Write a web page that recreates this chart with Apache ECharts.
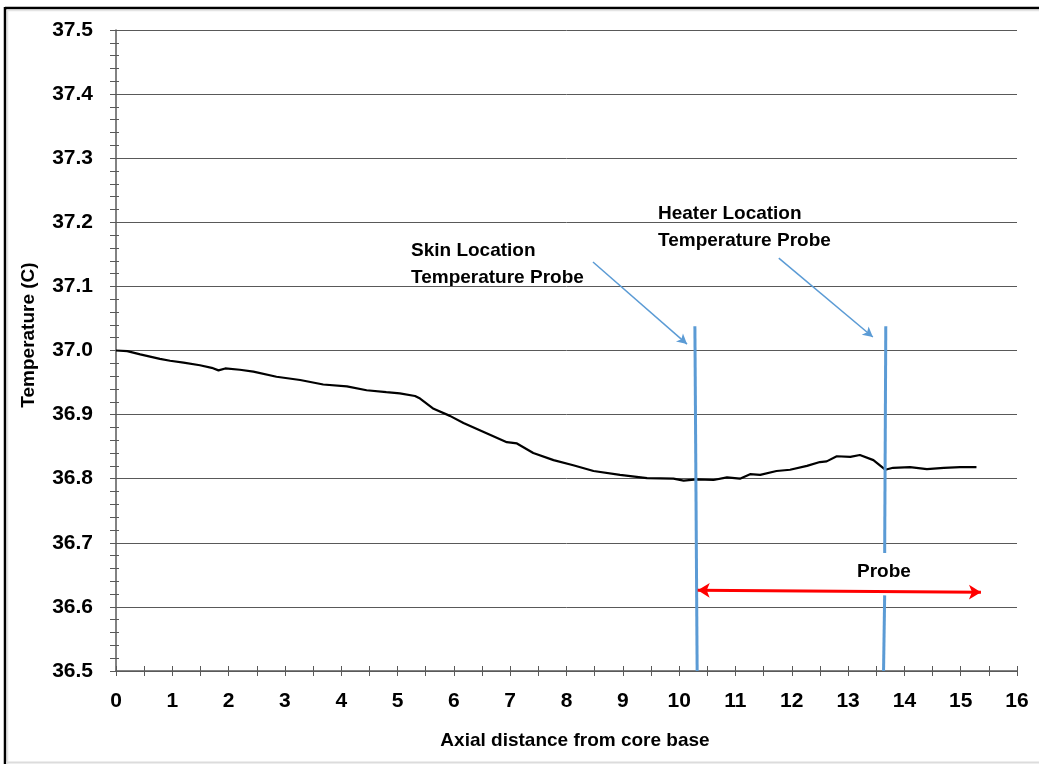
<!DOCTYPE html>
<html>
<head>
<meta charset="utf-8">
<script src="https://cdn.jsdelivr.net/npm/echarts@6/dist/echarts.min.js"></script>
<style>
html,body{margin:0;padding:0;background:#fff;}
#chart{width:1039px;height:764px;}
</style>
</head>
<body>
<div id="chart"></div>
<script>
// ---- data ----
const distance = [0, 0.2, 0.43, 0.78, 0.96, 1.2, 1.49, 1.7, 1.82, 1.94, 2.2, 2.44, 2.85, 3.27, 3.68, 4.1, 4.45, 4.8, 5.04, 5.31, 5.4, 5.64, 5.93, 6.17, 6.58, 6.94, 7.12, 7.41, 7.77, 8.12, 8.48, 8.95, 9.43, 9.9, 10.08, 10.31, 10.61, 10.85, 11.08, 11.26, 11.44, 11.73, 11.97, 12.27, 12.5, 12.62, 12.8, 13.04, 13.21, 13.45, 13.66, 13.8, 14.1, 14.4, 14.7, 14.99, 15.28];
const temperature = [37.000, 36.999, 36.994, 36.987, 36.984, 36.981, 36.977, 36.973, 36.969, 36.972, 36.970, 36.967, 36.959, 36.954, 36.947, 36.944, 36.938, 36.935, 36.933, 36.929, 36.925, 36.909, 36.898, 36.887, 36.871, 36.857, 36.855, 36.840, 36.829, 36.821, 36.812, 36.806, 36.801, 36.800, 36.797, 36.799, 36.798, 36.802, 36.800, 36.807, 36.806, 36.812, 36.814, 36.820, 36.826, 36.827, 36.835, 36.834, 36.837, 36.829, 36.814, 36.817, 36.818, 36.815, 36.817, 36.818, 36.818];
const xRange = [0, 16];
const yRange = [36.5, 37.5];
// probe marker lines (data coordinates)
const skinProbeLine = [[10.28, 37.038], [10.32, 36.5]];
const heaterProbeUpper = [[13.67, 37.038], [13.65, 36.684]];
const heaterProbeLower = [[13.65, 36.618], [13.63, 36.5]];
const skinPointer = [[8.47, 37.138], [10.14, 37.010]];
const heaterPointer = [[11.77, 37.144], [13.44, 37.021]];
const probeSpan = [[10.33, 36.626], [15.36, 36.623]];
const labels = {
  yTitle: 'Temperature (C)',
  xTitle: 'Axial distance from core base',
  skin: ['Skin Location', 'Temperature Probe'],
  heater: ['Heater Location', 'Temperature Probe'],
  probe: 'Probe'
};

const FONT = '"Liberation Sans", Arial, sans-serif';
const AX = '#595959';
const chart = echarts.init(document.getElementById('chart'), null, {renderer: 'canvas'});

const seriesData = distance.map((d, i) => [d, temperature[i]]);
function seg(pts) { return [{coord: pts[0]}, {coord: pts[1]}]; }

const gridH = 641;

const plainLines = [skinProbeLine, heaterProbeUpper, heaterProbeLower].map(p => {
  const d = seg(p);
  d[0].symbol = 'none'; d[1].symbol = 'none';
  d[0].lineStyle = {color: '#5B9BD5', width: 3, type: 'solid'};
  return d;
});
const pointerLines = [skinPointer, heaterPointer].map(p => {
  const d = seg(p);
  d[0].symbol = 'none'; d[1].symbol = 'arrow'; d[1].symbolSize = [8, 10];
  d[0].lineStyle = {color: '#5B9BD5', width: 1.5, type: 'solid'};
  return d;
});
const spanLine = (() => {
  const d = seg(probeSpan);
  d[0].symbol = 'arrow'; d[1].symbol = 'arrow';
  d[0].symbolSize = [11, 12]; d[1].symbolSize = [11, 12];
  d[0].lineStyle = {color: '#FF0000', width: 3, type: 'solid'};
  return d;
})();

chart.setOption({
  animation: false,
  backgroundColor: '#fff',
  grid: {left: 116, right: 22, top: 30, bottom: 93},
  xAxis: [{
    type: 'value', min: xRange[0], max: xRange[1], interval: 1,
    position: 'bottom',
    axisLine: {show: true, lineStyle: {color: AX, width: 1.5}},
    axisTick: {show: true, inside: false, length: 5, lineStyle: {color: AX, width: 1}},
    minorTick: {show: true, splitNumber: 2, length: 5, lineStyle: {color: AX, width: 1}},
    axisLabel: {fontFamily: FONT, fontWeight: 'bold', fontSize: 21, color: '#000', margin: 20},
    splitLine: {show: false}
  }, {
    type: 'value', min: xRange[0], max: xRange[1], interval: 1,
    position: 'top', offset: -gridH,
    axisLine: {show: false},
    axisTick: {show: true, inside: false, length: 5, lineStyle: {color: AX, width: 1}},
    minorTick: {show: true, splitNumber: 2, length: 5, lineStyle: {color: AX, width: 1}},
    axisLabel: {show: false},
    splitLine: {show: false}
  }],
  yAxis: [{
    type: 'value', min: yRange[0], max: yRange[1], interval: 0.1,
    position: 'left',
    axisLine: {show: true, lineStyle: {color: AX, width: 1.5}},
    axisTick: {show: true, inside: false, length: 6, lineStyle: {color: AX, width: 1}},
    minorTick: {show: true, splitNumber: 5, length: 6, lineStyle: {color: AX, width: 1}},
    axisLabel: {fontFamily: FONT, fontWeight: 'bold', fontSize: 21, color: '#000', margin: 23,
      formatter: v => v.toFixed(1)},
    splitLine: {show: true, lineStyle: {color: AX, width: 1}}
  }, {
    type: 'value', min: yRange[0], max: yRange[1], interval: 0.1,
    position: 'left',
    axisLine: {show: false},
    axisTick: {show: true, inside: true, length: 3, lineStyle: {color: AX, width: 1}},
    minorTick: {show: true, splitNumber: 5, length: 3, lineStyle: {color: AX, width: 1}},
    axisLabel: {show: false},
    splitLine: {show: false}
  }],
  series: [{
    type: 'line', data: seriesData, showSymbol: false, symbol: 'none',
    lineStyle: {color: '#000', width: 2.2}, silent: true, z: 3
  }, {
    type: 'line', data: [], silent: true, z: 4,
    markLine: {
      silent: true, animation: false,
      symbol: ['none', 'none'],
      label: {show: false},
      emphasis: {disabled: true},
      data: plainLines.concat(pointerLines, [spanLine])
    }
  }],
  graphic: [
    {type: 'line', shape: {x1: 5, y1: 8, x2: 1039, y2: 8}, style: {stroke: '#000', lineWidth: 2.5}, silent: true},
    {type: 'line', shape: {x1: 5, y1: 7, x2: 5, y2: 764}, style: {stroke: '#000', lineWidth: 2.5}, silent: true},
    {type: 'line', shape: {x1: 7, y1: 10.5, x2: 1039, y2: 10.5}, style: {stroke: '#e4e4e4', lineWidth: 1.5}, silent: true},
    {type: 'line', shape: {x1: 7.5, y1: 10, x2: 7.5, y2: 764}, style: {stroke: '#e4e4e4', lineWidth: 1.5}, silent: true},
    {type: 'line', shape: {x1: 6, y1: 762.5, x2: 1039, y2: 762.5}, style: {stroke: '#dcdcdc', lineWidth: 2}, silent: true},
    {type: 'text', x: 29, y: 335, rotation: Math.PI / 2, style: {text: labels.yTitle, font: 'bold 19px ' + FONT, fill: '#000', textAlign: 'center', textVerticalAlign: 'middle'}, silent: true},
    {type: 'text', x: 575, y: 741, style: {text: labels.xTitle, font: 'bold 19px ' + FONT, fill: '#000', textAlign: 'center', textVerticalAlign: 'middle'}, silent: true},
    {type: 'text', x: 411, y: 251, style: {text: labels.skin[0], font: 'bold 19px ' + FONT, fill: '#000', textVerticalAlign: 'middle'}, silent: true},
    {type: 'text', x: 411, y: 278, style: {text: labels.skin[1], font: 'bold 19px ' + FONT, fill: '#000', textVerticalAlign: 'middle'}, silent: true},
    {type: 'text', x: 658, y: 214, style: {text: labels.heater[0], font: 'bold 19px ' + FONT, fill: '#000', textVerticalAlign: 'middle'}, silent: true},
    {type: 'text', x: 658, y: 241, style: {text: labels.heater[1], font: 'bold 19px ' + FONT, fill: '#000', textVerticalAlign: 'middle'}, silent: true},
    {type: 'text', x: 857, y: 572, style: {text: labels.probe, font: 'bold 19px ' + FONT, fill: '#000', textVerticalAlign: 'middle'}, silent: true}
  ]
});
</script>
</body>
</html>
